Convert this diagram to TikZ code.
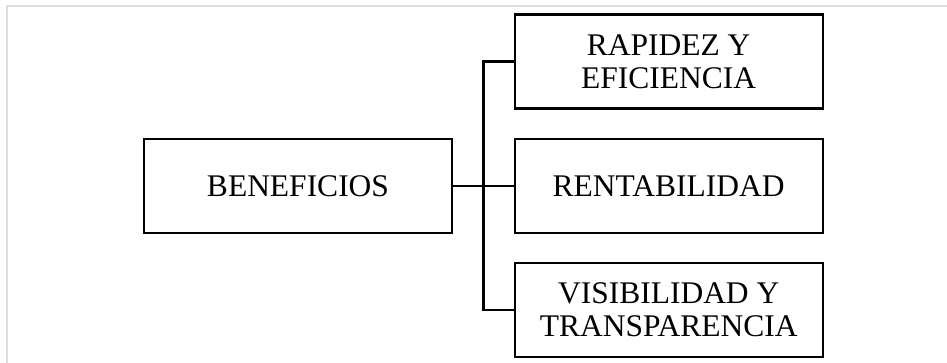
\documentclass[tikz,border=0pt]{standalone}
\usepackage{fontspec}
\setmainfont{Liberation Serif}
\usetikzlibrary{calc}
\tikzset{
  x=1pt, y=-1pt,
  item/.style={draw=black, line width=2.4pt, fill=white, inner sep=0pt, outer sep=0pt,
    minimum width=308pt, minimum height=94pt, align=center,
    font=\fontsize{31.5pt}{33pt}\selectfont},
  link/.style={draw=black, line width=2.4pt},
  frame/.style={draw=black!13, line width=1.6pt}
}
\begin{document}
\begin{tikzpicture}
  \useasboundingbox (0,0) rectangle (947,363);
  % light page frame along the top and left
  \coordinate (ftl) at (7,6);
  \coordinate (ftr) at (947,6);
  \coordinate (fbl) at (7,363);
  \draw[frame] (ftr) -- (ftl) -- (fbl);

  % boxes
  \node[item] (ben) at (298,186) {BENEFICIOS};
  \node[item] (top) at (668.7,61.5) {RAPIDEZ Y\\EFICIENCIA};
  \node[item] (mid) at (668.7,186) {RENTABILIDAD};
  \node[item] (bot) at (668.7,310) {VISIBILIDAD Y\\TRANSPARENCIA};

  % bracket connectors
  \coordinate (bus) at ($(ben.east)!0.5!(mid.west)$);
  \draw[link] (ben.east) -- (mid.west);
  \draw[link] (top.west) -| (bus) |- (bot.west);
\end{tikzpicture}
\end{document}
